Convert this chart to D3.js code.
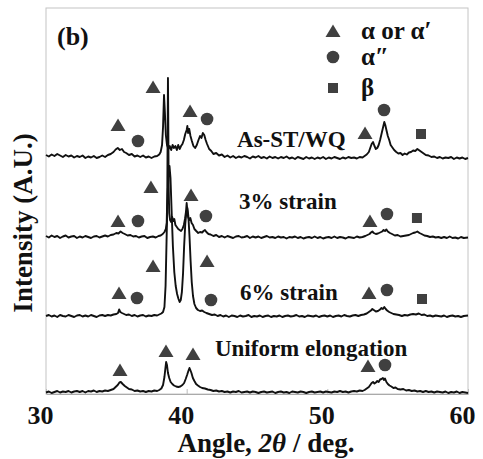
<!DOCTYPE html>
<html>
<head>
<meta charset="utf-8">
<script src="https://cdn.jsdelivr.net/npm/d3@7"></script>
<style>
  body { margin: 0; background: #fff; }
  svg { display: block; }
  text { font-family: "Liberation Serif", "Times New Roman", serif; font-weight: bold; fill: #111; }
</style>
</head>
<body>
<div id="chart"></div>
<script>
// XRD patterns, intensity above each pattern's own baseline (arbitrary units)
const asStWq = [
  [30.0,2],[30.2,0.5],[30.4,2.5],[30.6,1],[30.8,3],[31.0,1.5],[31.2,0],[31.4,2],[31.6,0.5],[31.8,1.5],[32.0,-0.5],[32.2,1],[32.4,0],[32.6,1.5],[32.8,-1],[33.0,0.5],[33.2,-0.5],[33.4,1],[33.6,-1],[33.8,0],[34.0,1.5],[34.2,0],[34.4,2],[34.6,3],[34.8,5],[34.95,7.5],[35.1,9],[35.25,7],[35.4,8],[35.55,5],[35.7,4],[35.9,2],[36.1,3],[36.3,0.5],[36.5,1.5],[36.7,0],[36.9,1.5],[37.1,-0.5],[37.3,0.5],[37.5,-1],[37.7,0.5],[37.9,1],[38.05,2.5],[38.15,5],[38.25,12],[38.32,30],[38.39,62],[38.45,45],[38.52,22],[38.6,12],[38.7,8],[38.8,11],[38.9,7],[39.0,12],[39.1,9],[39.2,11],[39.3,7],[39.4,12],[39.5,8],[39.6,11],[39.7,13],[39.8,17],[39.9,23],[40.0,27],[40.05,31],[40.1,24],[40.18,28],[40.27,21],[40.37,16],[40.48,11],[40.6,9],[40.72,12],[40.84,17],[40.95,21],[41.05,19],[41.15,24],[41.25,22],[41.35,17],[41.45,13],[41.6,8],[41.75,6],[41.9,3],[42.1,4],[42.3,1.5],[42.5,2.5],[42.7,0],[42.9,1.5],[43.1,-0.5],[43.3,1],[43.5,-1],[43.7,0.5],[43.9,-0.5],[44.1,1],[44.3,0],[44.5,-1.5],[44.7,0.5],[44.9,-0.5],[45.1,1],[45.3,-1],[45.5,0],[45.7,-1.5],[45.9,0.5],[46.1,-1],[46.3,0],[46.5,-1.5],[46.7,0],[46.9,-1],[47.1,0.5],[47.3,-1.5],[47.5,-0.5],[47.7,-2],[47.9,0],[48.1,-1],[48.3,-2],[48.5,0],[48.7,-1.5],[48.9,-0.5],[49.1,-2],[49.3,-0.5],[49.5,-1.5],[49.7,0],[49.9,-2],[50.1,-0.5],[50.3,-1.5],[50.5,0],[50.7,-1],[50.9,-2],[51.1,-0.5],[51.3,-1.5],[51.5,0],[51.7,-1],[51.9,-0.5],[52.1,-1.5],[52.3,0],[52.5,-0.5],[52.65,1],[52.8,2.5],[52.95,5],[53.05,9],[53.15,13],[53.25,15],[53.35,11],[53.45,8],[53.55,9],[53.65,12],[53.75,17],[53.85,23],[53.95,29],[54.05,35],[54.12,32],[54.2,27],[54.3,21],[54.4,17],[54.5,12],[54.6,10],[54.75,7],[54.9,5],[55.05,3.5],[55.2,4],[55.35,2],[55.5,3.5],[55.65,2.5],[55.8,4.5],[55.95,5],[56.1,6.5],[56.25,6],[56.4,8],[56.55,6.5],[56.7,5],[56.85,3.5],[57.0,2],[57.2,1.5],[57.4,0],[57.6,0.5],[57.8,-1],[58.0,0],[58.2,-1.5],[58.4,-0.5],[58.6,-1],[58.8,0],[59.0,-2],[59.2,-0.5],[59.4,-1.5],[59.6,-0.5],[59.8,-2],[60.0,-1]
];
const strain3 = [
  [30.0,1],[30.2,-0.5],[30.4,1.5],[30.6,0],[30.8,1],[31.0,-1],[31.2,0.5],[31.4,1.5],[31.6,-0.5],[31.8,0.5],[32.0,1],[32.2,-1],[32.4,0.5],[32.6,-0.5],[32.8,1],[33.0,0],[33.2,-1],[33.4,0.5],[33.6,1],[33.8,-0.5],[34.0,0.5],[34.2,1.5],[34.4,0.5],[34.6,2],[34.8,2.5],[35.0,4],[35.15,3.5],[35.3,5.5],[35.45,4],[35.6,3],[35.8,1.5],[36.0,2],[36.2,0.5],[36.4,1],[36.6,-0.5],[36.8,0.5],[37.0,1],[37.2,-1],[37.4,0],[37.6,0.5],[37.8,-0.5],[38.0,1],[38.15,1.5],[38.3,3],[38.42,5],[38.52,8],[38.58,14],[38.62,40],[38.65,110],[38.67,159],[38.69,120],[38.72,50],[38.76,24],[38.82,17],[38.9,15],[38.97,20],[39.05,16],[39.12,18],[39.2,12],[39.3,10],[39.4,8],[39.5,7],[39.6,6],[39.7,8],[39.8,12],[39.88,18],[39.95,25],[40.0,34],[40.04,28],[40.1,20],[40.18,17],[40.26,19],[40.35,14],[40.45,12],[40.55,8],[40.68,6],[40.82,4],[40.95,5],[41.1,4.5],[41.2,6],[41.3,7],[41.4,5],[41.55,3],[41.7,2.5],[41.9,1],[42.1,2],[42.3,0],[42.5,1],[42.7,-0.5],[42.9,1],[43.1,0],[43.3,-1],[43.5,0.5],[43.7,1],[43.9,-0.5],[44.1,0],[44.3,1],[44.5,-1],[44.7,0.5],[44.9,-0.5],[45.1,0.5],[45.3,-1],[45.5,0],[45.7,1],[45.9,-0.5],[46.1,0],[46.3,-1],[46.5,0.5],[46.7,-0.5],[46.9,0],[47.1,-1.5],[47.3,0],[47.5,-0.5],[47.7,0.5],[47.9,-1],[48.1,0],[48.3,-1.5],[48.5,-0.5],[48.7,0],[48.9,-1],[49.1,0.5],[49.3,-1],[49.5,0],[49.7,-1.5],[49.9,-0.5],[50.1,0],[50.3,-1],[50.5,0.5],[50.7,-1],[50.9,0],[51.1,-0.5],[51.3,-1.5],[51.5,0],[51.7,-0.5],[51.9,-1],[52.1,0.5],[52.3,-0.5],[52.5,0],[52.7,1],[52.85,2],[53.0,3],[53.1,4.5],[53.2,5.5],[53.3,4],[53.45,3],[53.6,3.5],[53.75,4.5],[53.9,5.5],[54.0,7],[54.1,6],[54.2,7.5],[54.3,5.5],[54.45,4],[54.6,3],[54.8,1.5],[55.0,2],[55.2,0.5],[55.4,1],[55.6,1.5],[55.8,2],[55.95,3],[56.1,4],[56.25,4.5],[56.4,5.5],[56.55,4],[56.7,3],[56.9,1.5],[57.1,1],[57.3,0],[57.5,0.5],[57.7,-0.5],[57.9,0],[58.1,-1],[58.3,0],[58.5,-1],[58.7,0.5],[58.9,-1],[59.1,-0.5],[59.3,-1.5],[59.5,0],[59.7,-1],[60.0,-0.5]
];
const strain6 = [
  [30.0,0],[30.2,1],[30.4,-0.5],[30.6,0.5],[30.8,-1],[31.0,1],[31.2,0],[31.4,-0.5],[31.6,1],[31.8,0],[32.0,-1],[32.2,0.5],[32.4,1],[32.6,-0.5],[32.8,0.5],[33.0,-0.5],[33.2,1],[33.4,0],[33.6,-1],[33.8,0.5],[34.0,1],[34.2,0],[34.4,1],[34.6,0.5],[34.8,1.5],[35.0,2],[35.12,3],[35.2,6.5],[35.28,4],[35.4,3],[35.55,2],[35.7,1],[35.9,1.5],[36.1,0],[36.3,1],[36.5,-0.5],[36.7,0.5],[36.9,1],[37.1,-0.5],[37.3,0.5],[37.5,0],[37.7,1],[37.9,0.5],[38.05,1.5],[38.2,2.5],[38.32,4],[38.42,9],[38.5,30],[38.57,75],[38.64,120],[38.72,145],[38.78,150],[38.85,138],[38.93,105],[39.02,70],[39.12,44],[39.22,30],[39.32,22],[39.42,17],[39.5,14],[39.58,16],[39.66,24],[39.74,42],[39.82,70],[39.9,92],[39.98,104],[40.05,108],[40.12,100],[40.2,80],[40.28,55],[40.36,34],[40.45,20],[40.55,12],[40.67,8],[40.8,6],[40.95,5],[41.1,5.5],[41.25,4],[41.4,3],[41.6,2],[41.8,1],[42.0,1.5],[42.2,0],[42.4,1],[42.6,-0.5],[42.8,0.5],[43.0,-1],[43.2,0.5],[43.4,0],[43.6,-1],[43.8,0.5],[44.0,-0.5],[44.2,0],[44.4,1],[44.6,-1],[44.8,0],[45.0,-0.5],[45.2,0.5],[45.4,-1],[45.6,0],[45.8,0.5],[46.0,-1],[46.2,0],[46.4,-0.5],[46.6,0.5],[46.8,-1],[47.0,0],[47.2,0.5],[47.4,-0.5],[47.6,0],[47.8,1],[48.0,-0.5],[48.2,0],[48.4,-1],[48.6,0.5],[48.8,0],[49.0,-0.5],[49.2,0.5],[49.4,-1],[49.6,0],[49.8,0.5],[50.0,-0.5],[50.2,0.5],[50.4,-1],[50.6,0],[50.8,0.5],[51.0,-0.5],[51.2,1],[51.4,0],[51.6,-0.5],[51.8,0.5],[52.0,1],[52.2,0],[52.4,1],[52.6,1.5],[52.8,2.5],[52.95,4],[53.1,5.5],[53.2,7],[53.3,6],[53.45,4.5],[53.6,5],[53.75,6.5],[53.85,8],[53.95,7],[54.05,9],[54.15,7],[54.25,5.5],[54.4,4],[54.55,3],[54.7,2],[54.9,1.5],[55.1,1],[55.3,0],[55.5,1],[55.7,0.5],[55.9,1.5],[56.1,2],[56.3,1.5],[56.5,2.5],[56.7,1],[56.9,1.5],[57.1,0],[57.3,0.5],[57.5,-0.5],[57.7,0.5],[57.9,0],[58.1,-0.5],[58.3,0.5],[58.5,-1],[58.7,0],[58.9,0.5],[59.1,-0.5],[59.3,0],[59.5,-1],[59.7,0],[60.0,0.5]
];
const uniform = [
  [30.0,-0.5],[30.2,0.5],[30.4,-1],[30.6,0],[30.8,1],[31.0,-0.5],[31.2,0.5],[31.4,0],[31.6,1],[31.8,-0.5],[32.0,0.5],[32.2,1],[32.4,0],[32.6,1],[32.8,-0.5],[33.0,1],[33.2,0.5],[33.4,1.5],[33.6,0],[33.8,1],[34.0,0.5],[34.2,1.5],[34.4,1],[34.6,2],[34.8,3],[34.95,5],[35.1,7],[35.22,9.5],[35.32,10],[35.45,8],[35.6,6],[35.75,4.5],[35.9,3],[36.1,2.5],[36.3,1],[36.5,1.5],[36.7,0.5],[36.9,1],[37.1,0],[37.3,1],[37.5,0.5],[37.7,1.5],[37.9,1],[38.05,2],[38.2,3.5],[38.32,7],[38.42,15],[38.49,24],[38.54,30],[38.6,27],[38.67,19],[38.76,14],[38.86,10],[38.98,8],[39.1,6.5],[39.25,5.5],[39.4,5],[39.55,5.5],[39.7,7],[39.82,9],[39.93,13],[40.03,17],[40.12,21],[40.2,24],[40.26,22],[40.34,19],[40.44,14],[40.55,11],[40.67,8],[40.8,6.5],[40.95,5],[41.1,4],[41.3,3.5],[41.5,2.5],[41.7,2],[41.9,1],[42.1,1.5],[42.3,0.5],[42.5,1],[42.7,0],[42.9,0.5],[43.1,-0.5],[43.3,0.5],[43.5,0],[43.7,1],[43.9,-0.5],[44.1,0],[44.3,0.5],[44.5,-0.5],[44.7,0.5],[44.9,0],[45.1,-1],[45.3,0],[45.5,0.5],[45.7,-0.5],[45.9,0],[46.1,0.5],[46.3,-1],[46.5,0],[46.7,0.5],[46.9,-0.5],[47.1,0],[47.3,-1],[47.5,0.5],[47.7,0],[47.9,-0.5],[48.1,0.5],[48.3,0],[48.5,-1],[48.7,0],[48.9,0.5],[49.1,-0.5],[49.3,0],[49.5,0.5],[49.7,-0.5],[49.9,0.5],[50.1,0],[50.3,-0.5],[50.5,0.5],[50.7,0],[50.9,1],[51.1,0],[51.3,0.5],[51.5,-0.5],[51.7,0.5],[51.9,1],[52.1,0.5],[52.3,1.5],[52.5,1],[52.65,2],[52.8,3.5],[52.95,5],[53.05,7],[53.15,9],[53.25,10],[53.35,8.5],[53.45,9.5],[53.55,11],[53.65,10],[53.75,12.5],[53.85,13],[53.95,14],[54.03,12],[54.1,13.5],[54.2,10],[54.3,8],[54.42,6.5],[54.55,5.5],[54.7,4],[54.85,4.5],[55.0,3],[55.2,2.5],[55.4,3],[55.6,1.5],[55.8,2],[56.0,1],[56.2,1.5],[56.4,0.5],[56.6,1],[56.8,0],[57.0,1],[57.2,0],[57.4,0.5],[57.6,-0.5],[57.8,0.5],[58.0,0],[58.2,-0.5],[58.4,0.5],[58.6,-1],[58.8,0],[59.0,-0.5],[59.2,0.5],[59.4,-1],[59.6,0],[59.8,-0.5],[60.0,-1]
];

const patternNames = ['As-ST/WQ', '3% strain', '6% strain', 'Uniform elongation'];
const patternOffsets = [237, 157, 78, 2];
const patternLabelAt = [[43.58, 247], [43.72, 185], [43.79, 94], [42.01, 38]];

// phase markers: [kind, angle, level]  (t = alpha/alpha', c = alpha'', s = beta)
const phaseMarks = [
  ['t',35.12,269],['c',36.54,253],['t',37.61,307],['t',40.24,283],['c',41.45,275],['t',52.68,261],['c',54.03,284],['s',56.66,260],
  ['t',35.12,173],['c',36.54,173],['t',37.46,207],['t',40.31,199],['c',41.37,178],['t',53.03,173],['c',54.24,180],['s',56.37,176],
  ['t',35.19,101],['c',36.47,96],['t',37.61,128],['t',41.45,133],['c',41.73,94],['t',52.96,101],['c',54.24,104],['s',56.73,95],
  ['t',35.26,24],['t',38.53,43],['t',40.45,40],['t',52.89,28],['c',54.10,29]
];
const legendKinds = ['t', 'c', 's'];
const legendLabels = ['α or α′', 'α″', 'β'];
const xTicks = [30, 40, 50, 60];

const W = 483, H = 459;
const mLeft = 46, mRight = 468, mTop = 8, mBottom = 394;

const svg = d3.select('#chart').append('svg')
  .attr('width', W).attr('height', H);

const x = d3.scaleLinear().domain([30, 60]).range([mLeft, mRight]);
const y = d3.scaleLinear().domain([0, mBottom - mTop]).range([mBottom, mTop]);

// frame
svg.append('rect')
  .attr('x', mLeft).attr('y', mTop)
  .attr('width', mRight - mLeft).attr('height', mBottom - mTop)
  .attr('fill', 'none').attr('stroke', '#c4c4c4').attr('stroke-width', 1);

const xAxis = svg.append('g')
  .attr('transform', `translate(0,${mBottom})`)
  .call(d3.axisBottom(x).tickValues(xTicks).tickSizeInner(-5).tickSizeOuter(0).tickPadding(12));
xAxis.select('.domain').attr('stroke', '#aaa');
xAxis.selectAll('.tick line').attr('stroke', '#bbb');
xAxis.selectAll('.tick text')
  .attr('dx', -6)
  .style('font-size', '26px')
  .style('font-family', '"Liberation Serif", "Times New Roman", serif')
  .style('font-weight', 'bold')
  .attr('fill', '#111');

// patterns
const patterns = [asStWq, strain3, strain6, uniform];
const line = d3.line()
  .x(d => x(d[0]))
  .y(d => y(d[1]));

svg.append('g').selectAll('path')
  .data(patterns)
  .enter()
  .append('path')
  .attr('d', (d, i) => line(d.map(p => [p[0], p[1] + patternOffsets[i]])))
  .attr('fill', 'none')
  .attr('stroke', '#111')
  .attr('stroke-width', 1.9)
  .attr('stroke-linejoin', 'round');

// marker shapes
function markPath(kind) {
  if (kind === 't') return 'M0,-6.5L7.5,6L-7.5,6Z';
  if (kind === 's') return 'M-5,-5H5V5H-5Z';
  return d3.symbol().type(d3.symbolCircle).size(Math.PI * 6.3 * 6.3)();
}

svg.append('g').selectAll('path')
  .data(phaseMarks)
  .enter()
  .append('path')
  .attr('d', d => markPath(d[0]))
  .attr('transform', d => `translate(${x(d[1])},${y(d[2])})`)
  .attr('fill', '#404040');

// pattern labels
svg.append('g').selectAll('text')
  .data(patternNames)
  .enter()
  .append('text')
  .attr('x', (d, i) => x(patternLabelAt[i][0]))
  .attr('y', (d, i) => y(patternLabelAt[i][1]))
  .style('font-size', '23px')
  .text(d => d);

// legend
const legend = svg.append('g');
legendKinds.forEach((k, i) => {
  const ly = [31, 57, 88][i];
  legend.append('path')
    .attr('d', markPath(k))
    .attr('transform', `translate(333,${ly})`)
    .attr('fill', '#404040');
  legend.append('text')
    .attr('x', 361).attr('y', ly + 8)
    .style('font-size', '25px')
    .text(legendLabels[i]);
});

// (b)
svg.append('text')
  .attr('x', 57).attr('y', 45)
  .style('font-size', '26px')
  .text('(b)');

// axis titles
const xt = svg.append('text')
  .attr('x', 266).attr('y', 452)
  .attr('text-anchor', 'middle')
  .style('font-size', '27px');
xt.append('tspan').text('Angle, ');
xt.append('tspan').style('font-style', 'italic').text('2θ');
xt.append('tspan').text(' / deg.');

svg.append('text')
  .attr('transform', 'translate(32,223) rotate(-90)')
  .attr('text-anchor', 'middle')
  .style('font-size', '27px')
  .text('Intensity (A.U.)');
</script>
</body>
</html>
